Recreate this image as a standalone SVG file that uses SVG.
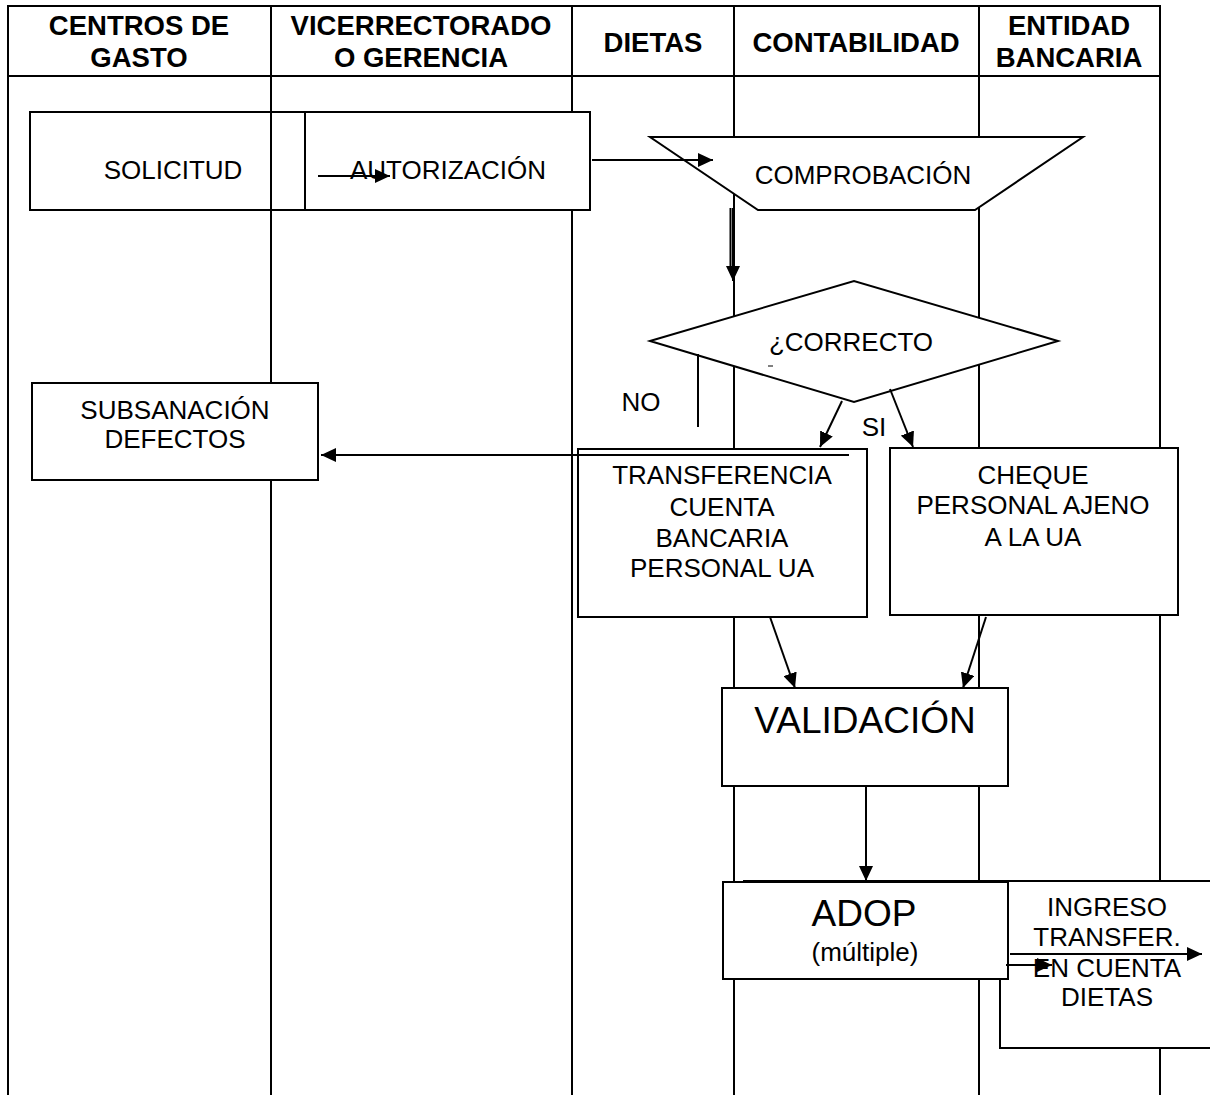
<svg xmlns="http://www.w3.org/2000/svg" width="1210" height="1095" viewBox="0 0 1210 1095">
<style>
.bg{fill:#fff}
.lane{stroke:#000;stroke-width:2;fill:none}
.box{fill:#fff;stroke:#000;stroke-width:2}
.open{fill:none;stroke:#000;stroke-width:2}
.hd{font-family:"Liberation Sans",Arial,sans-serif;font-weight:bold;font-size:27.5px;text-anchor:middle;fill:#000}
.t{font-family:"Liberation Sans",Arial,sans-serif;font-size:26px;text-anchor:middle;fill:#000}
.big{font-family:"Liberation Sans",Arial,sans-serif;font-size:37px;text-anchor:middle;fill:#000}
.c{stroke:#000;stroke-width:2;fill:none}
.ca{stroke:#000;stroke-width:2;fill:none;marker-end:url(#ah)}
</style>
<defs>
<marker id="ah" markerWidth="16" markerHeight="14" refX="15" refY="7" orient="auto" markerUnits="userSpaceOnUse">
<path d="M0,0 L15,7 L0,14 z" fill="#000"/>
</marker>
</defs>
<rect class="bg" x="0" y="0" width="1210" height="1095"/>
<g id="lanes">
<line class="lane" x1="7" y1="6" x2="1160" y2="6"/>
<line class="lane" x1="7" y1="76" x2="1160" y2="76"/>
<line class="lane" x1="8" y1="5" x2="8" y2="1095"/>
<line class="lane" x1="271" y1="5" x2="271" y2="1095"/>
<line class="lane" x1="572" y1="5" x2="572" y2="1095"/>
<line class="lane" x1="734" y1="5" x2="734" y2="1095"/>
<line class="lane" x1="979" y1="5" x2="979" y2="1095"/>
<line class="lane" x1="1160" y1="5" x2="1160" y2="1095"/>
<text class="hd" x="139" y="35">CENTROS DE</text>
<text class="hd" x="139" y="67">GASTO</text>
<text class="hd" x="421" y="35">VICERRECTORADO</text>
<text class="hd" x="421" y="67">O GERENCIA</text>
<text class="hd" x="653" y="52">DIETAS</text>
<text class="hd" x="856" y="52">CONTABILIDAD</text>
<text class="hd" x="1069" y="35">ENTIDAD</text>
<text class="hd" x="1069" y="67">BANCARIA</text>
</g>
<g id="solicitud">
<rect class="open" x="30" y="112" width="286" height="98"/>
<text class="t" x="173" y="179">SOLICITUD</text>
</g>
<g id="autorizacion">
<rect class="box" x="305" y="112" width="285" height="98"/>
<text class="t" x="448" y="179">AUTORIZACIÓN</text>
</g>
<g id="comprobacion">
<polygon class="box" points="650,137 1083,137 975,210 758,210"/>
<text class="t" x="863" y="184">COMPROBACIÓN</text>
</g>
<g id="correcto">
<polygon class="box" points="650,341 854,281 1058,341 854,402"/>
<text class="t" x="851" y="351">¿CORRECTO</text>
<line x1="768" y1="366" x2="773" y2="366" stroke="#000" stroke-width="1"/>
</g>
<g id="subsanacion">
<rect class="box" x="32" y="383" width="286" height="97"/>
<text class="t" x="175" y="419">SUBSANACIÓN</text>
<text class="t" x="175" y="448">DEFECTOS</text>
</g>
<g id="transferencia">
<rect class="box" x="578" y="449" width="289" height="168"/>
<text class="t" x="722" y="484">TRANSFERENCIA</text>
<text class="t" x="722" y="516">CUENTA</text>
<text class="t" x="722" y="547">BANCARIA</text>
<text class="t" x="722" y="577">PERSONAL UA</text>
</g>
<g id="cheque">
<rect class="box" x="890" y="448" width="288" height="167"/>
<text class="t" x="1033" y="484">CHEQUE</text>
<text class="t" x="1033" y="514">PERSONAL AJENO</text>
<text class="t" x="1033" y="546">A LA UA</text>
</g>
<g id="validacion">
<rect class="box" x="722" y="688" width="286" height="98"/>
<text class="big" x="865" y="733">VALIDACIÓN</text>
</g>
<g id="ingreso">
<rect class="box" x="1000" y="881" width="260" height="167"/>
<line class="c" x1="743" y1="881" x2="1000" y2="881"/>
<text class="t" x="1107" y="916">INGRESO</text>
<text class="t" x="1107" y="946">TRANSFER.</text>
<text class="t" x="1107" y="977">EN CUENTA</text>
<text class="t" x="1107" y="1006">DIETAS</text>
</g>
<g id="adop">
<rect class="box" x="723" y="882" width="285" height="97"/>
<text class="big" x="864" y="926">ADOP</text>
<text class="t" x="865" y="961">(múltiple)</text>
</g>
<g id="connectors">
<line class="ca" x1="318" y1="176" x2="390" y2="176"/>
<line class="ca" x1="592" y1="160" x2="713" y2="160"/>
<line class="c" x1="730.5" y1="208" x2="730.5" y2="270"/>
<line class="ca" x1="733" y1="208" x2="733" y2="281"/>
<line class="c" x1="698" y1="354" x2="698" y2="427"/>
<text class="t" x="641" y="411">NO</text>
<line class="ca" x1="849" y1="455" x2="321" y2="455"/>
<line class="ca" x1="842" y1="401" x2="820" y2="447"/>
<line class="ca" x1="890" y1="389" x2="913" y2="447"/>
<text class="t" x="874" y="436">SI</text>
<line class="ca" x1="770" y1="617" x2="795" y2="688"/>
<line class="ca" x1="986" y1="617" x2="963" y2="688"/>
<line class="ca" x1="866" y1="786" x2="866" y2="881"/>
<line class="ca" x1="1010" y1="954" x2="1202" y2="954"/>
<line class="ca" x1="1006" y1="965" x2="1052" y2="965"/>
</g>
</svg>
